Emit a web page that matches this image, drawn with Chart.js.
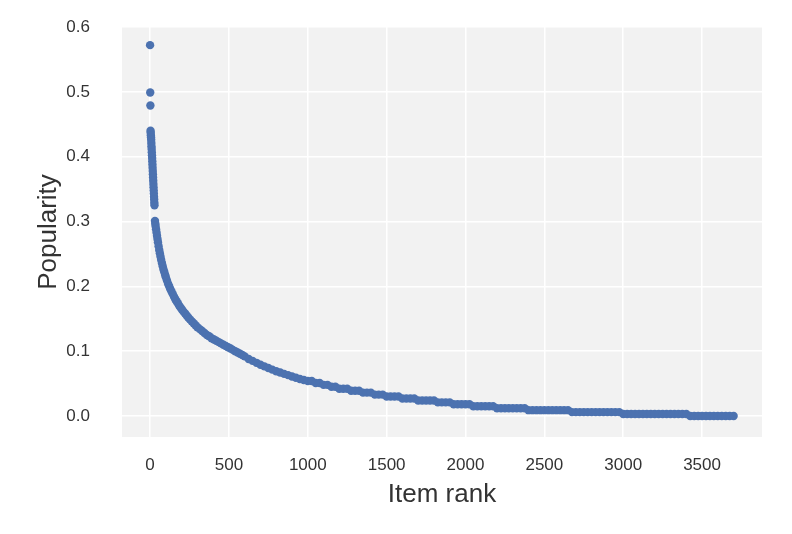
<!DOCTYPE html>
<html><head><meta charset="utf-8">
<script src="https://cdn.jsdelivr.net/npm/chart.js@4/dist/chart.umd.min.js"></script>
<style>html,body{margin:0;padding:0;background:#fff;}canvas{display:block;}</style>
</head><body>
<canvas id="c" width="792" height="534"></canvas>
<script>
// Head of the distribution (most popular items)
const rankHead = [0,1,2,3,4,5,6,7,8,9,10,11,12,13,14,15,16,17,18,19,20,21,22,23,24,25,26,27,28];
const popHead  = [0.572,0.499,0.479,0.440,0.437,0.433,0.430,0.426,0.421,0.416,0.412,0.407,0.402,0.398,0.393,0.388,0.383,0.378,0.373,0.368,0.363,0.358,0.353,0.348,0.343,0.338,0.334,0.329,0.325];

// Knee of the curve
const rankMid = [31,33,35,38,41,44,47,50,54,58,62,66,70,75,80,85,90,95,100,107,114,121,128,136,144,152,160,168,176,185,194,203,212,222,232,242,253,264,276,288,300,315,330,345,360,375,390,405,420,435,450,465,480,495,510,525,540,555,570,585,600,625,650,675,700,725,750,775,800,825,850,875,900,925,950,975];
const popMid  = [0.301,0.297,0.293,0.288,0.283,0.278,0.273,0.268,0.262,0.256,0.251,0.246,0.241,0.236,0.231,0.226,0.222,0.218,0.214,0.209,0.204,0.200,0.196,0.192,0.188,0.184,0.180,0.177,0.174,0.170,0.167,0.164,0.161,0.158,0.155,0.152,0.149,0.146,0.143,0.140,0.137,0.134,0.131,0.128,0.125,0.123,0.120,0.118,0.116,0.114,0.112,0.110,0.108,0.106,0.104,0.102,0.100,0.098,0.096,0.094,0.092,0.088,0.085,0.082,0.079,0.0765,0.074,0.0715,0.069,0.067,0.065,0.063,0.061,0.059,0.057,0.0555];

// Long tail (stepped levels)
const rankTail = [1000,1025,1050,1075,1100,1125,1150,1175,1200,1225,1250,1275,1300,1325,1350,1375,1400,1425,1450,1475,1500,1525,1550,1575,1600,1625,1650,1675,1700,1725,1750,1775,1800,1825,1850,1875,1900,1925,1950,1975,2000,2025,2050,2075,2100,2125,2150,2175,2200,2225,2250,2275,2300,2325,2350,2375,2400,2425,2450,2475,2500,2525,2550,2575,2600,2625,2650,2675,2700,2725,2750,2775,2800,2825,2850,2875,2900,2925,2950,2975,3000,3025,3050,3075,3100,3125,3150,3175,3200,3225,3250,3275,3300,3325,3350,3375,3400,3425,3450,3475,3500,3525,3550,3575,3600,3625,3650,3675,3700];
const popTail  = [0.054,0.054,0.051,0.051,0.048,0.048,0.045,0.045,0.042,0.042,0.042,0.039,0.039,0.039,0.036,0.036,0.036,0.033,0.033,0.033,0.030,0.030,0.030,0.030,0.027,0.027,0.027,0.027,0.024,0.024,0.024,0.024,0.024,0.021,0.021,0.021,0.021,0.018,0.018,0.018,0.018,0.018,0.015,0.015,0.015,0.015,0.015,0.015,0.012,0.012,0.012,0.012,0.012,0.012,0.012,0.012,0.009,0.009,0.009,0.009,0.009,0.009,0.009,0.009,0.009,0.009,0.009,0.006,0.006,0.006,0.006,0.006,0.006,0.006,0.006,0.006,0.006,0.006,0.006,0.006,0.003,0.003,0.003,0.003,0.003,0.003,0.003,0.003,0.003,0.003,0.003,0.003,0.003,0.003,0.003,0.003,0.003,0,0,0,0,0,0,0,0,0,0,0,0];

const xTicks = [0,500,1000,1500,2000,2500,3000,3500];
const yTicks = [0.0,0.1,0.2,0.3,0.4,0.5,0.6];
const xLabel = 'Item rank';
const yLabel = 'Popularity';

const ranks = rankHead.concat(rankMid, rankTail);
const pops = popHead.concat(popMid, popTail);
const points = ranks.map((r, i) => ({x: r, y: pops[i]}));

const FONT = "'Liberation Sans', Arial, sans-serif";
const TXT = '#333333';

const bgPlugin = {
  id: 'plotBg',
  beforeDraw(chart) {
    const {ctx, chartArea: a} = chart;
    ctx.save();
    ctx.fillStyle = '#f2f2f2';
    ctx.fillRect(a.left, a.top, a.right - a.left, a.bottom - a.top);
    ctx.restore();
  }
};

new Chart(document.getElementById('c'), {
  type: 'scatter',
  data: {datasets: [{
    data: points,
    backgroundColor: '#4c72b0',
    borderWidth: 0,
    pointRadius: 4.2,
    pointHoverRadius: 4.2
  }]},
  options: {
    responsive: false,
    animation: false,
    events: [],
    layout: {padding: {left: 0, top: 27, right: 30, bottom: 0}},
    plugins: {legend: {display: false}, tooltip: {enabled: false}},
    scales: {
      x: {
        type: 'linear', min: -178, max: 3880,
        afterBuildTicks(s) { s.ticks = xTicks.map(v => ({value: v})); },
        afterFit(s) { s.height = 97; s.paddingLeft = 0; s.paddingRight = 0; },
        grid: {color: '#ffffff', lineWidth: 1.5, drawTicks: false},
        border: {display: false},
        ticks: {padding: 18, color: TXT, font: {family: FONT, size: 17}, maxRotation: 0, autoSkip: false, callback: v => String(v)},
        title: {display: true, text: xLabel, color: TXT, font: {family: FONT, size: 26}, padding: {top: 0, bottom: 24}}
      },
      y: {
        type: 'linear', min: -0.0324, max: 0.6,
        afterBuildTicks(s) { s.ticks = yTicks.map(v => ({value: v})); },
        afterFit(s) { s.width = 122; s.paddingTop = 0; s.paddingBottom = 0; },
        grid: {color: '#ffffff', lineWidth: 1.5, drawTicks: false},
        border: {display: false},
        ticks: {padding: 32, color: TXT, font: {family: FONT, size: 17}, autoSkip: false, callback: v => Number(v).toFixed(1)},
        title: {display: true, text: yLabel, color: TXT, font: {family: FONT, size: 26}, padding: {top: 33, bottom: 0}}
      }
    }
  },
  plugins: [bgPlugin]
});
</script>
</body></html>
